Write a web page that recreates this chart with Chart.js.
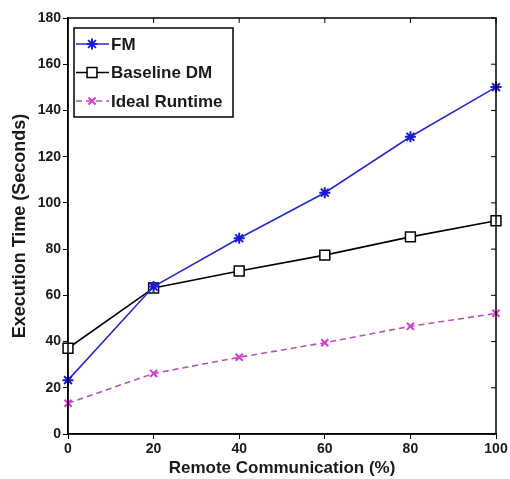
<!DOCTYPE html>
<html lang="en">
<head>
  <meta charset="UTF-8">
  <title>Execution Time vs Remote Communication</title>
  <script src="https://cdn.jsdelivr.net/npm/chart.js"></script>
  <style>
    html,body{margin:0;padding:0;background:#fff}
    #wrap{width:510px;height:479px;position:relative}
  </style>
</head>
<body>
<div id="wrap"><canvas id="chart"></canvas></div>

<script>
// values
const remoteComm  = [0, 20, 40, 60, 80, 100];
const fmTime      = [23.3, 63.8, 84.7, 104.4, 128.6, 150.1];
const baselineDM  = [37.1, 63.2, 70.5, 77.4, 85.3, 92.3];
const idealTime   = [13.3, 26.2, 33.2, 39.5, 46.6, 52.2];
const xTicks      = [0, 20, 40, 60, 80, 100];
const yTicks      = [0, 20, 40, 60, 80, 100, 120, 140, 160, 180];

const FONT = "'Liberation Sans', Arial, Helvetica, sans-serif";
const TXT  = '#1a1a1a';

const pts = ys => remoteComm.map((x,i)=>({x, y:ys[i]}));

/* frame, inward ticks on top/right, legend box inside plot */
const frameAndLegend = {
  id:'frameAndLegend',
  afterDraw(chart){
    const {ctx, chartArea:a, scales:{x, y}} = chart;
    ctx.save();
    ctx.strokeStyle = '#000';
    ctx.lineWidth = 1.5;
    ctx.strokeRect(a.left, a.top, a.right-a.left, a.bottom-a.top);
    ctx.beginPath();
    xTicks.forEach(v=>{ const px=x.getPixelForValue(v); ctx.moveTo(px,a.top); ctx.lineTo(px,a.top+5); });
    yTicks.forEach(v=>{ const py=y.getPixelForValue(v); ctx.moveTo(a.right,py); ctx.lineTo(a.right-5,py); });
    ctx.lineWidth = 1;
    ctx.stroke();

    // legend
    const bx=a.left+6, by=a.top+10, bw=159, bh=89;
    ctx.fillStyle='#fff';
    ctx.fillRect(bx,by,bw,bh);
    ctx.lineWidth=1.5;
    ctx.strokeStyle='#000';
    ctx.strokeRect(bx,by,bw,bh);
    ctx.font = "bold 17px "+FONT;
    ctx.textBaseline='middle';
    chart.data.datasets.forEach((ds,i)=>{
      const ly = by+16+i*28.5;
      ctx.beginPath();
      ctx.setLineDash(ds.borderDash||[]);
      ctx.strokeStyle = ds.borderColor;
      ctx.lineWidth = ds.borderWidth;
      ctx.moveTo(bx+2, ly); ctx.lineTo(bx+35, ly);
      ctx.stroke();
      ctx.setLineDash([]);
      ctx.fillStyle = ds.pointBackgroundColor;
      ctx.strokeStyle = ds.pointBorderColor;
      ctx.lineWidth = ds.pointBorderWidth;
      Chart.helpers.drawPoint(ctx, {
        pointStyle: ds.pointStyle, radius: ds.pointRadius, rotation: 0,
        borderWidth: ds.pointBorderWidth
      }, bx+18, ly);
      ctx.fillStyle = TXT;
      ctx.fillText(ds.label, bx+37, ly+1);
    });
    ctx.restore();
  }
};

new Chart(document.getElementById('chart'), {
  type:'line',
  data:{
    datasets:[
      {
        label:'FM',
        data:pts(fmTime),
        borderColor:'#2a2ac8',
        borderWidth:1.6,
        pointStyle:'star',
        pointRadius:5.5,
        pointBorderWidth:2,
        pointBorderColor:'#1a1ad8',
        pointBackgroundColor:'#1a1ad8',
        tension:0,
        clip:false
      },
      {
        label:'Baseline DM',
        data:pts(baselineDM),
        borderColor:'#000',
        borderWidth:1.6,
        pointStyle:'rect',
        pointRadius:7,
        pointBorderWidth:1.5,
        pointBorderColor:'#000',
        pointBackgroundColor:'#fff',
        tension:0,
        clip:false
      },
      {
        label:'Ideal Runtime',
        data:pts(idealTime),
        borderColor:'#b058b0',
        borderWidth:1.6,
        borderDash:[6,4],
        pointStyle:'crossRot',
        pointRadius:5,
        pointBorderWidth:2,
        pointBorderColor:'#d838d8',
        pointBackgroundColor:'#d838d8',
        tension:0,
        clip:false
      }
    ]
  },
  options:{
    responsive:true,
    maintainAspectRatio:false,
    animation:false,
    layout:{padding:{top:18, right:14, left:0, bottom:0}},
    plugins:{legend:{display:false}, tooltip:{enabled:false}},
    scales:{
      x:{
        type:'linear', min:0, max:100,
        afterBuildTicks:s=>{ s.ticks = xTicks.map(v=>({value:v})); },
        afterFit:s=>{ s.height = 45; },
        grid:{drawOnChartArea:false, tickLength:5, color:'#000', tickWidth:1},
        border:{color:'#000', width:1.5},
        ticks:{color:TXT, font:{family:FONT, size:14, weight:'bold'}, padding:2, maxRotation:0},
        title:{display:true, text:'Remote Communication (%)', color:TXT,
               font:{family:FONT, size:17, weight:'bold', lineHeight:1.2}, padding:{top:0,bottom:0}}
      },
      y:{
        type:'linear', min:0, max:180,
        afterBuildTicks:s=>{ s.ticks = yTicks.map(v=>({value:v})); },
        afterFit:s=>{ s.width = 68; },
        grid:{drawOnChartArea:false, tickLength:5, color:'#000', tickWidth:1},
        border:{color:'#000', width:1.5},
        ticks:{color:TXT, font:{family:FONT, size:14, weight:'bold'}, padding:2},
        title:{display:true, text:'Execution Time (Seconds)', color:TXT,
               font:{family:FONT, size:18, weight:'bold', lineHeight:1.2}, padding:{top:9,bottom:0}}
      }
    }
  },
  plugins:[frameAndLegend]
});
</script>
</body>
</html>
